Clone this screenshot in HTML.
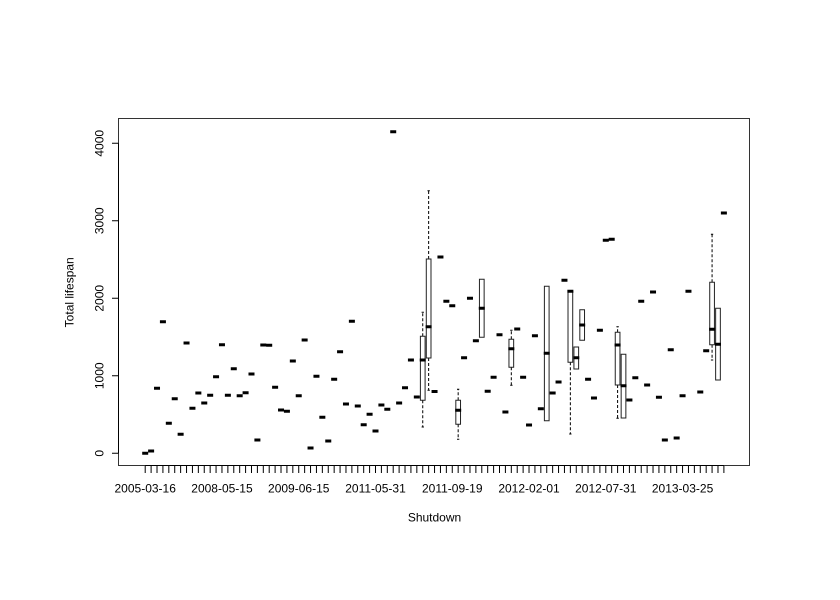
<!DOCTYPE html>
<html><head><meta charset="utf-8"><style>
html,body{margin:0;padding:0;background:#fff;}
svg{display:block;}
text{font-family:"Liberation Sans",Arial,sans-serif;font-size:12px;fill:#000;}
</style></head><body>
<svg width="840" height="600" viewBox="0 0 840 600" xmlns="http://www.w3.org/2000/svg">
<rect width="840" height="600" fill="#fff"/>
<rect x="118.5" y="118.5" width="631" height="347" fill="none" stroke="#333" stroke-width="1"/>
<path d="M118.5 143.3V453.3 M112 143.3H118.5 M112 220.8H118.5 M112 298.3H118.5 M112 375.8H118.5 M112 453.3H118.5" stroke="#000" stroke-width="1" fill="none"/>
<text transform="translate(103.3,453.3) rotate(-90)" text-anchor="middle">0</text>
<text transform="translate(103.3,375.8) rotate(-90)" text-anchor="middle">1000</text>
<text transform="translate(103.3,298.3) rotate(-90)" text-anchor="middle">2000</text>
<text transform="translate(103.3,220.8) rotate(-90)" text-anchor="middle">3000</text>
<text transform="translate(103.3,143.3) rotate(-90)" text-anchor="middle">4000</text>
<text transform="translate(73.5,292.3) rotate(-90)" text-anchor="middle">Total lifespan</text>
<path d="M145.2 465.5H723.9" stroke="#000" stroke-width="1"/>
<line x1="144.7" y1="469.5" x2="724.5" y2="469.5" stroke="#000" stroke-width="7" stroke-dasharray="1 4.905"/>
<text x="145.2" y="492.5" text-anchor="middle">2005-03-16</text>
<text x="221.97" y="492.5" text-anchor="middle">2008-05-15</text>
<text x="298.73" y="492.5" text-anchor="middle">2009-06-15</text>
<text x="375.5" y="492.5" text-anchor="middle">2011-05-31</text>
<text x="452.26" y="492.5" text-anchor="middle">2011-09-19</text>
<text x="529.03" y="492.5" text-anchor="middle">2012-02-01</text>
<text x="605.79" y="492.5" text-anchor="middle">2012-07-31</text>
<text x="682.56" y="492.5" text-anchor="middle">2013-03-25</text>
<text x="434.5" y="521.5" text-anchor="middle">Shutdown</text>
<path stroke="#000" stroke-width="1" stroke-dasharray="3,2" fill="none" d="M422.74 400.3V427M422.74 336.3V312.3M428.64 358V390.3M428.64 259V190.7M458.17 424.3V439.3M458.17 400.3V389.3M511.31 367.3V385.3M511.31 339.3V330.3M570.36 362.3V434M617.6 385V418.3M617.6 332.3V326.7M712.08 344.7V360M712.08 282.3V234.3"/>
<path stroke="#000" stroke-width="1" fill="none" d="M421.6 427h2.3M421.6 312.3h2.3M427.5 390.3h2.3M427.5 190.7h2.3M457 439.3h2.3M457 389.3h2.3M510.2 385.3h2.3M510.2 330.3h2.3M569.2 434h2.3M616.4 418.3h2.4M616.4 326.7h2.4M710.9 360h2.3M710.9 234.3h2.3"/>
<path stroke="#222" stroke-width="1" fill="#fff" d="M420.39 336.3h4.7v64h-4.7zM426.29 259h4.7v99h-4.7zM455.82 400.3h4.7v24h-4.7zM479.44 279.3h4.7v58h-4.7zM508.96 339.3h4.7v28h-4.7zM544.39 286.3h4.7v134.4h-4.7zM568.01 291.3h4.7v71h-4.7zM573.92 347h4.7v22h-4.7zM579.82 309.7h4.7v30.6h-4.7zM615.25 332.3h4.7v52.7h-4.7zM621.16 354.3h4.7v63.7h-4.7zM709.73 282.3h4.7v62.4h-4.7zM715.64 308.3h4.7v71.7h-4.7z"/>
<path stroke="#000" stroke-width="3" fill="none" d="M142.2 453.3h6M148.11 451h6M154.01 388.3h6M159.92 321.7h6M165.82 423.3h6M171.73 398.7h6M177.63 434.3h6M183.54 343h6M189.44 408.3h6M195.35 393h6M201.25 403h6M207.16 395.3h6M213.06 376.7h6M218.97 344.7h6M224.87 395.3h6M230.78 368.7h6M236.68 395.7h6M242.59 392.7h6M248.49 374h6M254.4 440h6M260.3 345h6M266.21 345.3h6M272.11 387.3h6M278.02 410h6M283.92 411.3h6M289.83 361h6M295.73 395.7h6M301.64 340h6M307.54 448h6M313.45 376.3h6M319.35 417.3h6M325.26 441h6M331.16 379.3h6M337.07 351.7h6M342.97 404h6M348.88 321.3h6M354.78 406h6M360.69 424.7h6M366.59 414.3h6M372.5 431h6M378.4 405h6M384.31 409.3h6M390.21 131.7h6M396.12 403h6M402.02 387.7h6M407.93 360h6M413.83 397h6M419.74 360h6M425.64 326.7h6M431.55 391.5h6M437.45 257h6M443.36 301.3h6M449.26 305.7h6M455.17 410.3h6M461.07 357.7h6M466.98 298.3h6M472.88 340.7h6M478.79 308.3h6M484.69 391.3h6M490.6 377.3h6M496.5 334.7h6M502.41 412h6M508.31 348.7h6M514.22 329h6M520.12 377.3h6M526.03 425h6M531.93 335.7h6M537.84 408.7h6M543.74 353.3h6M549.65 393h6M555.55 382h6M561.46 280.3h6M567.36 291.3h6M573.27 357.7h6M579.17 325h6M585.08 379.3h6M590.98 398h6M596.89 330.3h6M602.79 240.3h6M608.7 239.3h6M614.6 345h6M620.51 385.7h6M626.41 400h6M632.32 377.7h6M638.22 301.3h6M644.13 385h6M650.03 292h6M655.94 397.3h6M661.84 440h6M667.75 349.7h6M673.65 438h6M679.56 395.7h6M685.46 291.3h6M697.27 392h6M703.18 350.7h6M709.08 329.3h6M714.99 344.3h6M720.89 213h6"/>
</svg>
</body></html>
